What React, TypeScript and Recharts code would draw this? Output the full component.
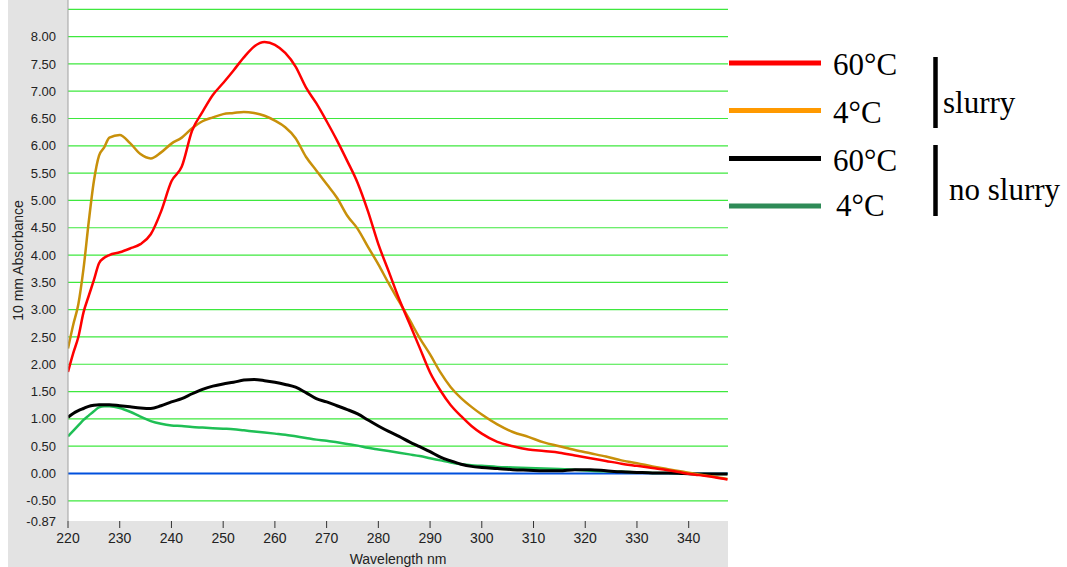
import React from "react";
import { CartesianGrid, Line, LineChart, ReferenceLine, XAxis, YAxis } from "recharts";

// wavelength samples (nm)
const wavelengths = [
    220, 221, 222, 223, 224, 225, 226, 227, 228, 230, 232, 234, 236, 238, 240, 242, 244, 246, 248, 250,
    252, 254, 256, 258, 260, 262, 264, 266, 268, 270, 272, 274, 276, 278, 280, 282, 284, 286, 288, 290,
    292, 294, 296, 298, 300, 303, 306, 309, 312, 315, 318, 321, 324, 327, 330, 333, 336, 339, 342, 345, 347.5,
];

// slurry, 60°C
const slurryHot = [
    1.86, 2.2, 2.5, 2.95, 3.25, 3.54, 3.85, 3.95, 4.0, 4.05, 4.12, 4.2, 4.38, 4.8, 5.35, 5.62, 6.28, 6.62, 6.93, 7.15,
    7.38, 7.62, 7.82, 7.9, 7.85, 7.7, 7.45, 7.07, 6.78, 6.45, 6.1, 5.72, 5.32, 4.8, 4.2, 3.7, 3.2, 2.75, 2.3, 1.85,
    1.52, 1.25, 1.05, 0.87, 0.73, 0.58, 0.5, 0.44, 0.41, 0.38, 0.33, 0.28, 0.23, 0.18, 0.14, 0.1, 0.06, 0.01, -0.03, -0.07, -0.11,
];

// slurry, 4°C
const slurryCold = [
    2.29, 2.72, 3.1, 3.75, 4.6, 5.35, 5.82, 5.97, 6.15, 6.2, 6.05, 5.85, 5.77, 5.88, 6.04, 6.15, 6.32, 6.45, 6.52, 6.58,
    6.6, 6.62, 6.6, 6.55, 6.46, 6.34, 6.14, 5.8, 5.55, 5.3, 5.05, 4.72, 4.48, 4.15, 3.83, 3.48, 3.15, 2.82, 2.48, 2.18,
    1.85, 1.58, 1.38, 1.22, 1.08, 0.9, 0.76, 0.67, 0.57, 0.5, 0.43, 0.37, 0.31, 0.24, 0.19, 0.13, 0.08, 0.03, -0.02, -0.06, -0.1,
];

// no slurry, 60°C
const plainHot = [
    1.03, 1.1, 1.15, 1.19, 1.23, 1.25, 1.26, 1.26, 1.26, 1.24, 1.22, 1.2, 1.19, 1.24, 1.31, 1.37, 1.46, 1.54, 1.6, 1.64,
    1.67, 1.71, 1.72, 1.7, 1.67, 1.63, 1.58, 1.48, 1.37, 1.31, 1.24, 1.17, 1.09, 0.98, 0.87, 0.77, 0.68, 0.58, 0.49, 0.4,
    0.3, 0.23, 0.17, 0.13, 0.11, 0.09, 0.07, 0.06, 0.05, 0.05, 0.07, 0.07, 0.05, 0.03, 0.02, 0.01, 0.01, 0.0, -0.01, -0.01, -0.01,
];

// no slurry, 4°C
const plainCold = [
    0.68, 0.78, 0.88, 0.98, 1.06, 1.14, 1.21, 1.23, 1.23, 1.2, 1.13, 1.04, 0.96, 0.91, 0.88, 0.87, 0.85, 0.84, 0.83, 0.82,
    0.81, 0.79, 0.77, 0.75, 0.73, 0.71, 0.68, 0.65, 0.62, 0.6, 0.57, 0.54, 0.51, 0.47, 0.44, 0.41, 0.38, 0.35, 0.32, 0.28,
    0.24, 0.2, 0.17, 0.15, 0.14, 0.12, 0.11, 0.1, 0.09, 0.08, 0.07, 0.05, 0.04, 0.03, 0.02, 0.01, 0.01, 0.0, -0.01, -0.01, -0.01,
];

const xTicks = [220, 230, 240, 250, 260, 270, 280, 290, 300, 310, 320, 330, 340];
const yTicks = [-0.87, -0.5, 0, 0.5, 1, 1.5, 2, 2.5, 3, 3.5, 4, 4.5, 5, 5.5, 6, 6.5, 7, 7.5, 8];
const gridValues = [-0.5, 0.5, 1, 1.5, 2, 2.5, 3, 3.5, 4, 4.5, 5, 5.5, 6, 6.5, 7, 7.5, 8, 8.5];

const rows = wavelengths.map((nm, i) => ({
    nm,
    slurryHot: slurryHot[i],
    slurryCold: slurryCold[i],
    plainHot: plainHot[i],
    plainCold: plainCold[i],
}));

const legendItems = [
    { label: "60°C", color: "#ff0000" },
    { label: "4°C", color: "#ff9900" },
    { label: "60°C", color: "#000000" },
    { label: "4°C", color: "#2e8b57" },
];

const axisFont = "'Liberation Sans', Arial, sans-serif";

function YTitle(props: any) {
    const { viewBox } = props;
    const cx = viewBox.x + 10;
    const cy = viewBox.y + viewBox.height / 2;
    return (
        <text
            x={cx}
            y={cy}
            transform={`rotate(-90, ${cx}, ${cy})`}
            textAnchor="middle"
            dominantBaseline="central"
            fontSize={14}
            fontFamily={axisFont}
            fill="#222"
        >
            10 mm Absorbance
        </text>
    );
}

function SideLegend() {
    const lineY = [63, 110.5, 158.5, 206];
    const textY = [75, 123, 171, 216];
    const textX = [833, 833, 833, 836];
    return (
        <svg width={1067} height={567} style={{ position: "absolute", left: 0, top: 0, pointerEvents: "none" }}>
            {legendItems.map((item, i) => (
                <g key={i}>
                    <line x1={729} x2={821} y1={lineY[i]} y2={lineY[i]} stroke={item.color} strokeWidth={5} />
                    <text x={textX[i]} y={textY[i]} fontSize={31} fontFamily="'Liberation Serif', 'Times New Roman', serif" fill="#000">
                        {item.label}
                    </text>
                </g>
            ))}
            <line x1={935.5} x2={935.5} y1={57} y2={128} stroke="#000" strokeWidth={4.5} />
            <line x1={935.5} x2={935.5} y1={145} y2={216} stroke="#000" strokeWidth={4.5} />
            <text x={943} y={113} fontSize={31} fontFamily="'Liberation Serif', 'Times New Roman', serif" fill="#000">
                slurry
            </text>
            <text x={949} y={200} fontSize={31} fontFamily="'Liberation Serif', 'Times New Roman', serif" fill="#000">
                no slurry
            </text>
        </svg>
    );
}

export default function App() {
    return (
        <div style={{ position: "absolute", left: 0, top: 0, width: 1067, height: 567, background: "#fff" }}>
            <div style={{ position: "absolute", left: 8, top: 0, width: 720, height: 567, background: "#e3e3e3" }}>
                <LineChart width={720} height={567} data={rows} margin={{ top: 0, right: 0, bottom: 0, left: 0 }}>
                    <CartesianGrid
                        fill="#ffffff"
                        fillOpacity={1}
                        vertical={false}
                        horizontalValues={gridValues}
                        stroke="#3ee83e"
                        strokeWidth={1.2}
                    />
                    <XAxis
                        dataKey="nm"
                        type="number"
                        domain={[220, 347.6]}
                        ticks={xTicks}
                        allowDataOverflow
                        height={46}
                        axisLine={false}
                        tickSize={7}
                        tickMargin={5}
                        tickLine={{ stroke: "#333" }}
                        tick={{ fontSize: 14, fontFamily: axisFont, fill: "#222" }}
                        label={{ value: "Wavelength nm", position: "insideBottom", offset: 3, fontSize: 14, fontFamily: axisFont, fill: "#222" }}
                    />
                    <YAxis
                        type="number"
                        domain={[-0.87, 8.67]}
                        ticks={yTicks}
                        allowDataOverflow
                        interval={0}
                        width={60}
                        axisLine={{ stroke: "#a0a0a0" }}
                        tickLine={false}
                        tickSize={0}
                        tickMargin={12}
                        tickFormatter={(v: number) => v.toFixed(2)}
                        tick={{ fontSize: 13, fontFamily: axisFont, fill: "#222" }}
                        label={{ content: YTitle }}
                    />
                    <ReferenceLine y={0} stroke="#0050dd" strokeWidth={2} />
                    <Line dataKey="plainCold" type="monotone" stroke="#1fbf55" strokeWidth={2.5} dot={false} activeDot={false} isAnimationActive={false} />
                    <Line dataKey="plainHot" type="monotone" stroke="#000000" strokeWidth={3} dot={false} activeDot={false} isAnimationActive={false} />
                    <Line dataKey="slurryCold" type="monotone" stroke="#c8900a" strokeWidth={2.5} dot={false} activeDot={false} isAnimationActive={false} />
                    <Line dataKey="slurryHot" type="monotone" stroke="#ff0000" strokeWidth={2.5} dot={false} activeDot={false} isAnimationActive={false} />
                </LineChart>
            </div>
            <SideLegend />
        </div>
    );
}
